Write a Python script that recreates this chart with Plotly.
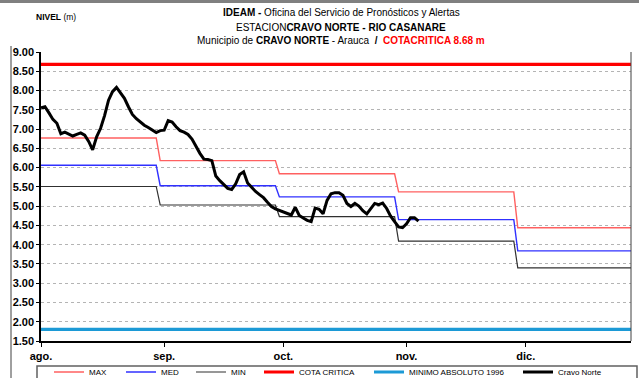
import pandas as pd
import plotly.graph_objects as go

# Month labels on the time axis
meses = ["ago.", "sep.", "oct.", "nov.", "dic."]
inicio_mes = ["2024-08-01", "2024-09-01", "2024-10-01", "2024-11-01", "2024-12-01"]

# Monthly historical reference levels (m)
nivel_max = [6.77, 6.18, 5.84, 5.37, 4.44]
nivel_med = [6.06, 5.53, 5.24, 4.65, 3.84]
nivel_min = [5.51, 5.03, 4.73, 4.09, 3.40]

cota_critica = 8.68
minimo_absoluto_1996 = 1.80

# Daily observed level at Cravo Norte from 1 Aug (m)
cravo_norte = [
    7.55, 7.58, 7.42, 7.25, 7.15, 6.88, 6.92, 6.86, 6.82, 6.86,
    6.90, 6.84, 6.68, 6.46, 6.80, 7.02, 7.35, 7.75, 7.97, 8.08,
    7.95, 7.80, 7.58, 7.38, 7.27, 7.18, 7.10, 7.04, 6.97, 6.91,
    6.96, 6.97, 7.22, 7.18, 7.06, 6.96, 6.92, 6.86, 6.74, 6.55,
    6.37, 6.22, 6.21, 6.18, 5.78, 5.66, 5.55, 5.46, 5.43, 5.58,
    5.82, 5.89, 5.60, 5.48, 5.38, 5.30, 5.22, 5.10, 4.99, 4.93,
    4.89, 4.87, 4.81, 4.77, 4.97, 4.76, 4.69, 4.63, 4.60, 4.95,
    4.92, 4.80, 5.15, 5.32, 5.35, 5.35, 5.28, 5.07, 4.99, 5.07,
    5.00, 4.88, 4.80, 4.95, 5.07, 5.04, 5.08, 4.94, 4.74, 4.60,
    4.46, 4.44, 4.54, 4.70, 4.70, 4.61,
]

DIAS_POR_NIVEL = 30
fechas_ref = pd.date_range("2024-08-01", periods=len(nivel_max) * DIAS_POR_NIVEL, freq="D")
fechas_obs = pd.date_range("2024-08-01", periods=len(cravo_norte), freq="D")


def diario(niveles):
    return [v for v in niveles for _ in range(DIAS_POR_NIVEL)]


W, H = 639, 378
ML, MR, MT, MB = 41, 8, 52, 37
PW, PH = W - ML - MR, H - MT - MB


def px(x):
    return (x - ML) / PW


def py(y):
    return (H - MB - y) / PH


NARROW = "Liberation Sans Narrow, Arial Narrow, Liberation Sans, Arial, sans-serif"
SANS = "Liberation Sans, Arial, sans-serif"

fig = go.Figure()

series = [
    ("MAX", fechas_ref, diario(nivel_max), "#ff6060", 1.4, 89),
    ("MED", fechas_ref, diario(nivel_med), "#3030ff", 1.4, 161),
    ("MIN", fechas_ref, diario(nivel_min), "#303030", 1.2, 231),
    ("COTA CRITICA", [fechas_ref[0], fechas_ref[-1]], [cota_critica] * 2, "#ff0000", 3.2, 299),
    ("MINIMO ABSOLUTO 1996", [fechas_ref[0], fechas_ref[-1]], [minimo_absoluto_1996] * 2, "#1c9ad6", 3.2, 409),
    ("Cravo Norte", fechas_obs, cravo_norte, "#000000", 3.0, 558),
]

legends = {}
for i, (name, xs, ys, color, width, text_x) in enumerate(series):
    key = "legend" if i == 0 else f"legend{i + 1}"
    fig.add_trace(go.Scatter(
        x=xs, y=ys, mode="lines", name=name,
        line=dict(color=color, width=width),
        legend=key, hoverinfo="skip",
    ))
    legends[key] = dict(
        x=px(text_x - 40), y=py(372), xanchor="left", yanchor="middle",
        bgcolor="rgba(0,0,0,0)", borderwidth=0,
        font=dict(family=NARROW, size=8, color="#000"),
        orientation="h", itemclick=False, itemdoubleclick=False,
    )

fig.update_layout(
    width=W, height=H,
    margin=dict(l=ML, r=MR, t=MT, b=MB, autoexpand=False),
    paper_bgcolor="white", plot_bgcolor="white",
    showlegend=True,
    **legends,
)

fig.update_xaxes(
    type="date",
    range=["2024-08-01", "2024-12-27 12:00"],
    tickvals=inicio_mes, ticktext=meses,
    ticks="outside", ticklen=4, tickcolor="#000", tickwidth=1,
    showgrid=False, showline=True, linecolor="#000", linewidth=1.5,
    tickfont=dict(family=SANS, size=11, color="#000", weight="bold"),
    zeroline=False,
)
fig.update_yaxes(
    range=[1.5, 9.0], dtick=0.5, tick0=1.5, tickformat=".2f",
    ticks="outside", ticklen=3, tickcolor="#000", tickwidth=1,
    showgrid=True, gridcolor="#b4b4b4", griddash="dot", gridwidth=1,
    showline=True, linecolor="#000", linewidth=1.5,
    tickfont=dict(family=SANS, size=11, color="#000", weight="bold"),
    zeroline=False,
)

# Chart frame pieces and legend box
fig.add_shape(type="line", xref="paper", yref="paper", x0=1, x1=1, y0=0, y1=1,
              line=dict(color="#404040", width=1))
fig.add_shape(type="line", xref="paper", yref="paper", x0=px(0), x1=px(W), y0=py(1.5), y1=py(1.5),
              line=dict(color="#808080", width=3))
fig.add_shape(type="line", xref="paper", yref="paper", x0=px(11), x1=px(11), y0=py(46), y1=py(H),
              line=dict(color="#404040", width=1))
fig.add_shape(type="rect", xref="paper", yref="paper", x0=px(37), x1=px(637), y0=py(366), y1=py(H + 4),
              line=dict(color="#606060", width=1.5), fillcolor="rgba(0,0,0,0)")

# Titles
cx = px(341)
TITLE_SIZE = 10
fig.add_annotation(xref="paper", yref="paper", x=cx, y=py(13), xanchor="center", yanchor="middle",
                   showarrow=False, font=dict(family=NARROW, size=TITLE_SIZE, color="#000"),
                   text="<b>IDEAM - </b>Oficina del Servicio de Pronósticos y Alertas")
fig.add_annotation(xref="paper", yref="paper", x=cx, y=py(27), xanchor="center", yanchor="middle",
                   showarrow=False, font=dict(family=NARROW, size=TITLE_SIZE, color="#000"),
                   text="ESTACION<b>CRAVO NORTE - RIO CASANARE</b>")
fig.add_annotation(xref="paper", yref="paper", x=cx, y=py(40), xanchor="center", yanchor="middle",
                   showarrow=False, font=dict(family=NARROW, size=TITLE_SIZE, color="#000"),
                   text="Municipio de <b>CRAVO NORTE</b> - Arauca  <b>/</b>  "
                        "<span style='color:#ff0000'><b>COTACRITICA 8.68 m</b></span>")
fig.add_annotation(xref="paper", yref="paper", x=px(34), y=py(17), xanchor="left", yanchor="middle",
                   showarrow=False, font=dict(family=NARROW, size=8.5, color="#000"),
                   text="<b>NIVEL</b> (m)")

fig.write_html("out.html")
